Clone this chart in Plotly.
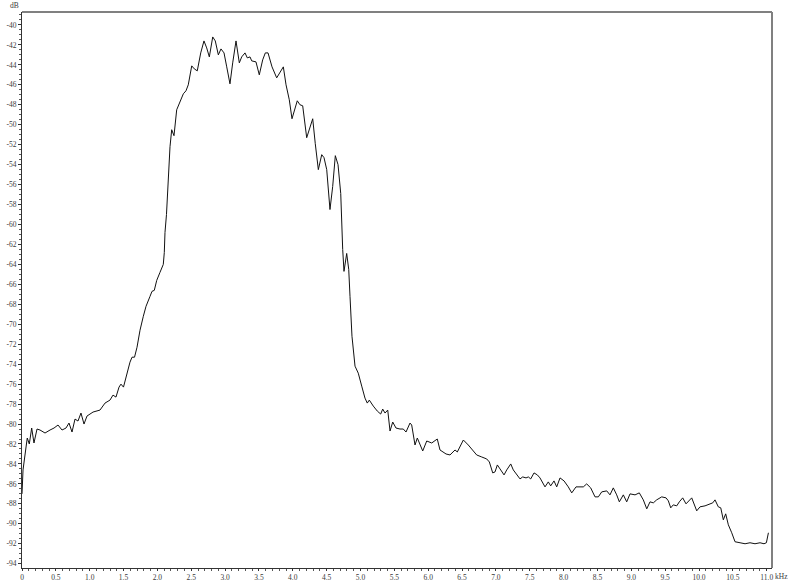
import plotly.graph_objects as go

freq_khz = [
    0.000, 0.015, 0.060, 0.078, 0.108, 0.143, 0.177, 0.222, 0.266, 0.340,
    0.414, 0.473, 0.532, 0.591, 0.650, 0.694, 0.739, 0.783, 0.827, 0.871,
    0.916, 0.960, 1.049, 1.152, 1.226, 1.300, 1.344, 1.388, 1.433, 1.462,
    1.499, 1.547, 1.595, 1.625, 1.662, 1.699, 1.743, 1.792, 1.832, 1.891,
    1.920, 1.954, 1.990, 2.038, 2.087, 2.102, 2.112, 2.134, 2.161, 2.186,
    2.211, 2.245, 2.285, 2.334, 2.383, 2.422, 2.456, 2.507, 2.545, 2.589,
    2.640, 2.688, 2.728, 2.767, 2.817, 2.855, 2.900, 2.939, 2.984, 3.024,
    3.072, 3.112, 3.161, 3.210, 3.245, 3.294, 3.328, 3.368, 3.393, 3.456,
    3.505, 3.555, 3.594, 3.634, 3.693, 3.762, 3.811, 3.860, 3.900, 3.948,
    3.988, 4.028, 4.066, 4.106, 4.146, 4.205, 4.254, 4.294, 4.332, 4.377,
    4.427, 4.461, 4.501, 4.549, 4.589, 4.628, 4.668, 4.708, 4.737, 4.756,
    4.796, 4.826, 4.845, 4.874, 4.919, 4.967, 5.018, 5.066, 5.100, 5.130,
    5.189, 5.248, 5.298, 5.328, 5.362, 5.402, 5.436, 5.476, 5.524, 5.583,
    5.632, 5.672, 5.731, 5.756, 5.805, 5.839, 5.919, 5.978, 6.052, 6.134,
    6.174, 6.263, 6.322, 6.396, 6.430, 6.519, 6.592, 6.666, 6.716, 6.790,
    6.864, 6.903, 6.953, 6.987, 7.021, 7.061, 7.120, 7.160, 7.219, 7.257,
    7.307, 7.356, 7.396, 7.445, 7.479, 7.514, 7.563, 7.612, 7.651, 7.725,
    7.774, 7.809, 7.858, 7.898, 7.947, 8.006, 8.069, 8.120, 8.183, 8.242,
    8.291, 8.341, 8.400, 8.464, 8.513, 8.563, 8.637, 8.685, 8.734, 8.784,
    8.823, 8.882, 8.932, 8.981, 9.055, 9.118, 9.177, 9.228, 9.276, 9.325,
    9.375, 9.449, 9.513, 9.547, 9.582, 9.620, 9.671, 9.709, 9.759, 9.808,
    9.857, 9.892, 9.966, 10.015, 10.089, 10.152, 10.203, 10.236, 10.285, 10.321,
    10.359, 10.394, 10.433, 10.483, 10.532, 10.606, 10.680, 10.753, 10.827, 10.901,
    10.960, 10.995, 11.025,
]

level_db = [
    -87.0, -84.6, -82.3, -81.4, -82.0, -80.4, -81.9, -80.5, -80.6, -80.9,
    -80.6, -80.4, -80.1, -80.6, -80.4, -79.9, -80.8, -79.5, -79.7, -78.9,
    -80.0, -79.2, -78.8, -78.6, -77.9, -77.6, -77.1, -77.3, -76.3, -76.0,
    -76.3, -75.0, -73.8, -73.3, -73.3, -72.3, -70.6, -69.2, -68.2, -67.2,
    -66.7, -66.6, -65.6, -64.8, -64.0, -62.8, -60.8, -59.0, -54.8, -52.2,
    -50.5, -51.1, -48.5, -47.7, -46.9, -46.6, -46.0, -44.1, -44.4, -44.6,
    -42.8, -41.6, -42.3, -43.2, -41.2, -41.6, -43.0, -42.4, -42.8, -44.2,
    -45.9, -43.8, -41.6, -43.8, -43.2, -42.8, -43.3, -43.2, -43.6, -43.7,
    -45.0, -43.5, -42.8, -42.8, -44.2, -45.3, -44.8, -44.2, -46.0, -47.5,
    -49.4, -48.5, -47.6, -48.0, -48.1, -51.3, -50.2, -49.4, -51.9, -54.5,
    -53.0, -53.3, -54.5, -58.5, -56.2, -53.1, -54.0, -56.9, -62.5, -64.7,
    -62.9, -64.5, -67.2, -71.2, -74.2, -74.9, -76.2, -77.4, -77.9, -77.6,
    -78.2, -78.7, -79.0, -78.5, -78.9, -78.6, -80.7, -79.8, -80.4, -80.5,
    -80.5, -80.8, -79.9, -80.1, -82.1, -81.4, -82.7, -81.7, -81.9, -81.5,
    -82.6, -83.0, -83.1, -82.6, -82.8, -81.6, -82.1, -82.7, -83.1, -83.3,
    -83.5, -83.8, -84.9, -84.8, -84.1, -84.5, -85.1, -84.6, -84.0, -84.6,
    -85.1, -85.5, -85.3, -85.4, -85.3, -85.5, -84.9, -85.1, -85.4, -86.3,
    -85.8, -86.2, -85.7, -86.3, -85.4, -85.7, -86.3, -86.9, -86.3, -86.3,
    -86.3, -86.0, -86.4, -87.3, -87.3, -86.8, -86.7, -87.1, -86.4, -87.1,
    -87.8, -87.1, -87.8, -87.0, -87.1, -86.9, -87.6, -88.5, -87.8, -87.9,
    -87.6, -87.3, -87.4, -87.7, -88.4, -88.1, -88.2, -87.8, -87.4, -88.0,
    -87.7, -87.4, -88.7, -88.3, -88.2, -88.0, -87.9, -87.6, -88.3, -88.4,
    -89.6, -89.0, -90.1, -90.9, -91.8, -91.9, -92.0, -91.9, -92.0, -91.9,
    -92.0, -91.9, -90.9,
]

x_tick_vals = [i * 0.5 for i in range(23)]
x_tick_text = ["0"] + ["%.1f" % v for v in x_tick_vals[1:]]
y_tick_vals = list(range(-40, -95, -2))
y_tick_text = [str(v) for v in y_tick_vals]

FONT = "Liberation Serif"
TXT = "#3a3a3a"

fig = go.Figure()
fig.add_trace(go.Scatter(
    x=freq_khz, y=level_db, mode="lines",
    line=dict(color="#111111", width=1),
    hoverinfo="skip", showlegend=False,
))

fig.update_layout(
    width=800, height=582,
    margin=dict(l=22, r=28, t=12, b=14),
    paper_bgcolor="white", plot_bgcolor="white",
    showlegend=False,
    font=dict(family=FONT, size=8, color=TXT),
    xaxis=dict(
        range=[0, 11.078], showgrid=False, zeroline=False, automargin=False,
        showline=True, linecolor="#333333", linewidth=1,
        tickmode="array", tickvals=x_tick_vals, ticktext=x_tick_text,
        ticks="outside", ticklen=2, tickwidth=1, tickcolor="#333333",
        minor=dict(dtick=0.1, ticks="outside", ticklen=2, tickcolor="#555555", showgrid=False),
        tickfont=dict(family=FONT, size=7.5, color=TXT),
        fixedrange=True,
    ),
    yaxis=dict(
        range=[-94.43, -38.70], showgrid=False, zeroline=False, automargin=False,
        showline=True, linecolor="#333333", linewidth=1,
        tickmode="array", tickvals=y_tick_vals, ticktext=y_tick_text,
        ticks="outside", ticklen=3, tickwidth=1, tickcolor="#333333",
        minor=dict(dtick=0.5, ticks="outside", ticklen=2, tickcolor="#555555", showgrid=False),
        tickfont=dict(family=FONT, size=7.5, color=TXT),
        fixedrange=True,
    ),
    shapes=[
        dict(type="line", xref="paper", yref="paper", x0=0, x1=1, y0=1, y1=1,
             line=dict(color="#808080", width=2)),
        dict(type="line", xref="paper", yref="paper", x0=1, x1=1, y0=0, y1=1,
             line=dict(color="#808080", width=2)),
    ],
    annotations=[
        dict(text="dB", xref="paper", yref="paper", x=-0.01, y=1.0,
             xanchor="center", yanchor="bottom", showarrow=False,
             font=dict(family=FONT, size=7.5, color=TXT)),
        dict(text="kHz", xref="x", yref="paper", x=11.0, y=0,
             xanchor="left", yanchor="top", xshift=6, yshift=-2, showarrow=False,
             font=dict(family=FONT, size=7.5, color=TXT)),
    ],
)

fig.write_html(
    "out.html",
    config={"displayModeBar": False},
    post_script="document.body.style.margin='0';document.body.style.overflow='hidden';",
)
